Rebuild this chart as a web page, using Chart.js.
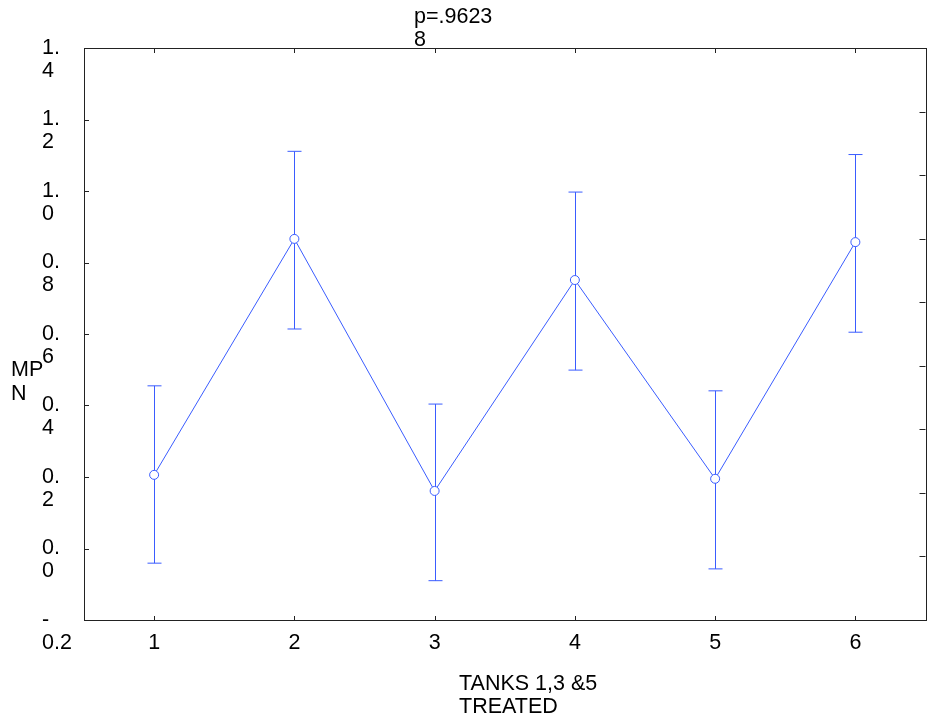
<!DOCTYPE html>
<html>
<head>
<meta charset="utf-8">
<script src="https://cdn.jsdelivr.net/npm/chart.js@4/dist/chart.umd.min.js"></script>
<style>
  body { margin: 0; background: #fff; }
  #wrap { width: 931px; height: 725px; }
</style>
</head>
<body>
<div id="wrap"><canvas id="chart" width="931" height="725"></canvas></div>
<script>
// MPN per tank, mean with upper / lower limits
const categories = ["1", "2", "3", "4", "5", "6"];
const means = [0.206, 0.866, 0.161, 0.751, 0.195, 0.857];
const upper = [0.455, 1.111, 0.404, 0.997, 0.441, 1.102];
const lower = [-0.041, 0.614, -0.090, 0.499, -0.057, 0.605];

const yTickValues = [-0.2, 0, 0.2, 0.4, 0.6, 0.8, 1.0, 1.2, 1.4];
const yTickLabels = [["-", "0.2"], ["0.", "0"], ["0.", "2"], ["0.", "4"], ["0.", "6"],
                     ["0.", "8"], ["1.", "0"], ["1.", "2"], ["1.", "4"]];
const rightTickValues = [0, 1, 2, 3, 4, 5, 6, 7, 8, 9];

const titleLines = ["p=.9623", "8"];
const xTitleLines = ["TANKS 1,3 &5", "TREATED"];
const yTitleLines = ["MP", "N"];

const BLUE = "#3a5cff";
const FAMILY = '"Liberation Sans", Arial, sans-serif';
const SIZE = 21.5;

const decorations = {
  id: "decorations",
  beforeDatasetsDraw(chart) {
    const { ctx } = chart;
    const x = chart.scales.x, y = chart.scales.y;
    ctx.save();
    ctx.strokeStyle = BLUE;
    ctx.lineWidth = 1;
    means.forEach((m, i) => {
      const px = Math.round(x.getPixelForValue(i)) + 0.5;
      const top = y.getPixelForValue(upper[i]);
      const bot = y.getPixelForValue(lower[i]);
      ctx.beginPath();
      ctx.moveTo(px, top); ctx.lineTo(px, bot);
      ctx.moveTo(px - 7, top); ctx.lineTo(px + 7, top);
      ctx.moveTo(px - 7, bot); ctx.lineTo(px + 7, bot);
      ctx.stroke();
    });
    ctx.restore();
  },
  afterDraw(chart) {
    const { ctx, chartArea: a } = chart;
    const x = chart.scales.x, y = chart.scales.y, y2 = chart.scales.y2;
    ctx.save();
    ctx.strokeStyle = "#222";
    ctx.lineWidth = 1;
    ctx.strokeRect(Math.round(a.left) + 0.5, Math.round(a.top) + 0.5,
                   Math.round(a.right - a.left), Math.round(a.bottom - a.top));
    ctx.beginPath();
    yTickValues.forEach(v => {
      const py = Math.round(y.getPixelForValue(v)) + 0.5;
      ctx.moveTo(a.left, py); ctx.lineTo(a.left + 5, py);
    });
    rightTickValues.forEach(v => {
      const py = Math.round(y2.getPixelForValue(v)) + 0.5;
      ctx.moveTo(a.right, py); ctx.lineTo(a.right - 6, py);
    });
    categories.forEach((c, i) => {
      const px = Math.round(x.getPixelForValue(i)) + 0.5;
      ctx.moveTo(px, a.top); ctx.lineTo(px, a.top + 5);
      ctx.moveTo(px, a.bottom); ctx.lineTo(px, a.bottom - 4);
    });
    ctx.stroke();

    ctx.fillStyle = "#000";
    ctx.font = SIZE + "px " + FAMILY;
    ctx.textAlign = "left";
    ctx.textBaseline = "middle";
    titleLines.forEach((t, i) => ctx.fillText(t, 414, 17.5 + i * 23));
    xTitleLines.forEach((t, i) => ctx.fillText(t, 459, 684 + i * 23));
    yTitleLines.forEach((t, i) => ctx.fillText(t, 11, 370 + i * 24));
    ctx.restore();
  }
};

new Chart(document.getElementById("chart"), {
  type: "line",
  data: {
    labels: categories,
    datasets: [{
      data: means,
      borderColor: BLUE,
      borderWidth: 1,
      pointRadius: 4.5,
      pointBorderWidth: 1,
      pointBackgroundColor: "#fff",
      pointBorderColor: BLUE,
      tension: 0
    }]
  },
  options: {
    responsive: false,
    animation: false,
    layout: { padding: { left: 42, top: 48, right: 5, bottom: 0 } },
    plugins: { legend: { display: false }, tooltip: { enabled: false } },
    scales: {
      x: {
        type: "category",
        offset: true,
        grid: { display: false, drawTicks: false },
        border: { display: false },
        ticks: { color: "#000", padding: 12, font: { family: FAMILY, size: SIZE, lineHeight: 23 / SIZE } },
        afterFit(s) { s.height = 105; }
      },
      y: {
        min: -0.2,
        max: 1.4,
        grid: { display: false, drawTicks: false },
        border: { display: false },
        afterBuildTicks(s) { s.ticks = yTickValues.map(v => ({ value: v })); },
        ticks: {
          color: "#000",
          crossAlign: "far",
          padding: 0,
          labelOffset: 11.5,
          font: { family: FAMILY, size: SIZE, lineHeight: 23 / SIZE },
          callback: (v, i) => yTickLabels[i]
        },
        afterFit(s) { s.width = 42; }
      },
      y2: {
        position: "right",
        display: false,
        min: 0,
        max: 9
      }
    }
  },
  plugins: [decorations]
});
</script>
</body>
</html>
